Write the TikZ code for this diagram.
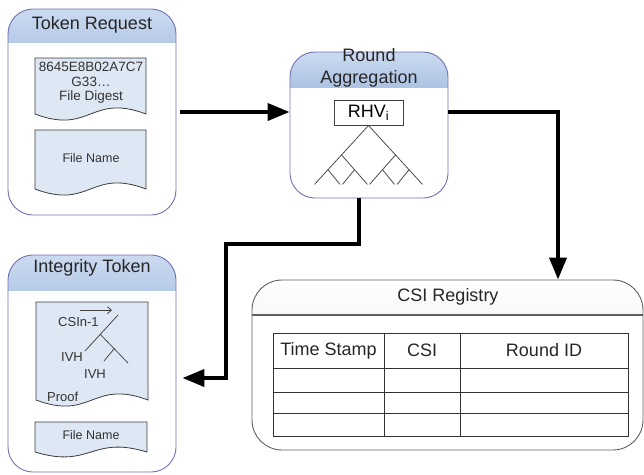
\documentclass[tikz,border=0pt]{standalone}
\usepackage{fontspec}
\setmainfont{Liberation Sans}
\usetikzlibrary{arrows.meta,positioning}

\definecolor{panelline}{RGB}{112,112,178}
\definecolor{hdrtop}{RGB}{203,218,240}
\definecolor{hdrbot}{RGB}{74,122,188}
\definecolor{docfill}{RGB}{222,231,244}
\definecolor{docline}{RGB}{60,60,60}
\definecolor{reghdr}{RGB}{220,220,214}
\definecolor{regline}{RGB}{95,95,95}

\begin{document}
\begin{tikzpicture}[x=1pt,y=-1pt,
  panel/.style={draw=panelline,line width=0.9pt,rounded corners=25pt,inner sep=0pt,
    path picture={\shade[sharp corners,top color=hdrtop,bottom color=hdrbot]
      (path picture bounding box.north west) rectangle
      ([yshift=-#1]path picture bounding box.north east);}},
  regpanel/.style={draw=regline,line width=0.9pt,rounded corners=30pt,inner sep=0pt,
    path picture={\shade[sharp corners,top color=white,bottom color=reghdr]
      (path picture bounding box.north west) rectangle
      ([yshift=-#1]path picture bounding box.north east);
      \draw[regline,line width=1.1pt]
      ([yshift=-#1]path picture bounding box.north west) --
      ([yshift=-#1]path picture bounding box.north east);}},
  ttl/.style={font=\fontsize{18}{22}\selectfont,text=black!85,align=center,inner sep=0pt},
  doc/.style={draw=docline,fill=docfill,line width=0.8pt},
  doctxt/.style={font=\fontsize{13.5}{14.5}\selectfont,text=black!80,align=center,inner sep=0pt},
  prf/.style={font=\fontsize{13}{15}\selectfont,text=black!80,inner sep=0pt},
  tree/.style={draw=black!70,line width=0.8pt},
  grid/.style={draw=black!80,line width=0.9pt},
  flow/.style={line width=4pt,-{Triangle[length=22pt,width=17pt]}}
]
\useasboundingbox (0,0) rectangle (644,474);

%% Token Request
\node[panel=33pt,minimum width=168pt,minimum height=206pt] (tok) at (92,112) {};
\node[ttl] (tokttl) at (92,25) {Token Request};
\draw[doc] (35,114) -- (35,58) -- (146,58) -- (146,114)
  .. controls (90.5,93) and (90.5,135) .. (35,114) -- cycle;
\node[doctxt] (digest) at (91,83) {8645E8B02A7C7\\G33…\\File Digest};
\draw[doc] (35,189) -- (35,130) -- (146,130) -- (146,189)
  .. controls (90.5,168) and (90.5,210) .. (35,189) -- cycle;
\node[doctxt,font=\fontsize{12.5}{14}\selectfont] (tokname) at (91,158) {File Name};

%% Round Aggregation
\node[panel=35pt,minimum width=158pt,minimum height=146pt] (agg) at (369,125) {};
\node[ttl] (aggttl) at (369,68) {Round\\Aggregation};
\node[draw=black!75,fill=white,line width=0.9pt,minimum width=69pt,minimum height=25pt,
  inner sep=0pt,font=\fontsize{18}{22}\selectfont] (rhv) at (368.5,112.5) {RHV\textsubscript{i}};
\foreach \s in {-1,1} {
  \draw[tree] (rhv.south) -- ++(54*\s,59);
  \draw[tree] (rhv.south) ++(27*\s,29.5) -- ++(-26*\s,29.5);
  \draw[tree] (rhv.south) ++(40.5*\s,44.25) -- ++(-12*\s,14.75);
  \draw[tree] (rhv.south) ++(27*\s,29.5) ++(-13*\s,14.75) -- ++(12*\s,14.75);
}

%% Integrity Token
\node[panel=35pt,minimum width=168pt,minimum height=217pt] (integ) at (92,363.5) {};
\node[ttl] (integttl) at (92,268) {Integrity Token};
\draw[doc] (36,400) -- (36,302) -- (148,302) -- (148,400)
  .. controls (92,379) and (92,421) .. (36,400) -- cycle;
\node[prf,anchor=west] (csi) at (58,322) {CSIn-1};
\draw[black!75,line width=0.8pt,-{Straight Barb[length=4pt,width=7pt]}]
  ([xshift=22pt,yshift=7pt]csi.north west) -- ++(32,0);
\draw[tree] (118,315) -- (85,351);
\draw[tree] (100,334) -- (128,363);
\draw[tree] (114,349) -- (104,361);
\node[prf] (ivha) at (72,357) {IVH};
\node[prf] (ivhb) at (95,374) {IVH};
\node[prf,anchor=west] (proof) at (47,397) {Proof};
\draw[doc] (35,452) -- (35,422) -- (147,422) -- (147,452)
  .. controls (91,435) and (91,469) .. (35,452) -- cycle;
\node[doctxt,font=\fontsize{12.5}{14}\selectfont] (integname) at (91,435) {File Name};

%% CSI Registry
\node[regpanel=35pt,minimum width=391pt,minimum height=170pt] (reg) at (447.5,365) {};
\node[ttl] (regttl) at (448,297) {CSI Registry};
\draw[grid] (273,333) rectangle (628,436);
\foreach \x in {384,460} \draw[grid] (\x,333) -- (\x,436);
\foreach \y in {368,392,413} \draw[grid] (273,\y) -- (628,\y);
\node[ttl] (colts) at (328.5,350.5) {Time Stamp};
\node[ttl] (colcsi) at (422,350.5) {CSI};
\node[ttl] (colrid) at (544,350.5) {Round ID};

%% connectors
\coordinate (turn) at (226,244);
\coordinate (integin) at ([xshift=6pt,yshift=-14.5pt]integ.east);
\draw[flow] ([xshift=4pt]tok.east) -- (tok.east -| agg.west);
\draw[flow] (agg.east |- tok.east) -| ([xshift=110.5pt]reg.north);
\draw[flow] ([xshift=-10pt]agg.south) |- (turn) |- (integin);
\end{tikzpicture}
\end{document}
